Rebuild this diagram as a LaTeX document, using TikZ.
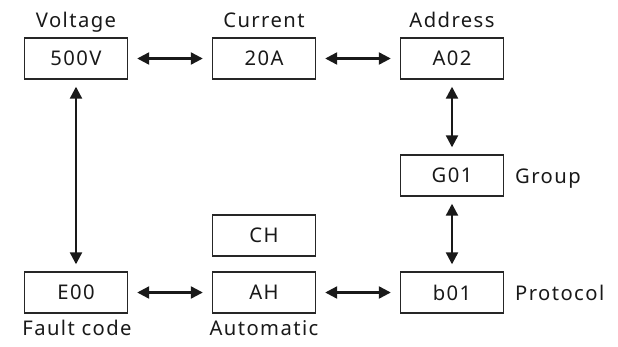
\documentclass[tikz,border=0pt]{standalone}
\usepackage{fontspec}
\setmainfont[LetterSpace=7]{Noto Sans}
\usetikzlibrary{arrows.meta}
\begin{document}
\begin{tikzpicture}[x=1bp,y=-1bp,
  txt/.style={font=\fontsize{20.3}{22}\selectfont, inner sep=0, text=black!90},
  box/.style={txt, draw=black!85, line width=1.4bp, minimum width=103bp, minimum height=41bp},
  lbl/.style={txt, anchor=base},
  arr/.style={line width=2.3bp, draw=black!90, {Triangle[length=12bp,width=12bp]}-{Triangle[length=12bp,width=12bp]}},
  harr/.style={arr, shorten <=9bp, shorten >=9bp},
  varr/.style={arr, shorten <=7bp, shorten >=7bp}]
\useasboundingbox (0,0) rectangle (618,346);
\node[box] (v) at (76,58.5) {500V};
\node[box] (c) at (264,58.5) {20A};
\node[box] (a) at (452,58.5) {A02};
\node[box] (g) at (452,175.5) {G01};
\node[box] (ch) at (264,235.5) {CH};
\node[box] (e) at (76,292.5) {E00};
\node[box] (ah) at (264,292.5) {AH};
\node[box] (b) at (452,292.5) {b01};
\node[lbl] (lv) at (76,27) {Voltage};
\node[lbl] (lc) at (264,27) {Current};
\node[lbl] (la) at (452,27) {Address};
\node[lbl, anchor=base west] (lg) at (515,183) {Group};
\node[lbl, anchor=base west] (lp) at (515,300) {Protocol};
\node[lbl] (lf) at (77,335) {Fault code};
\node[lbl] (lah) at (264,335) {Automatic};
\draw[harr] (v) -- (c);
\draw[harr] (c) -- (a);
\draw[varr] (a) -- (g);
\draw[varr] (g) -- (b);
\draw[harr] (e) -- (ah);
\draw[harr] (ah) -- (b);
\draw[varr] (v) -- (e);
\end{tikzpicture}
\end{document}
